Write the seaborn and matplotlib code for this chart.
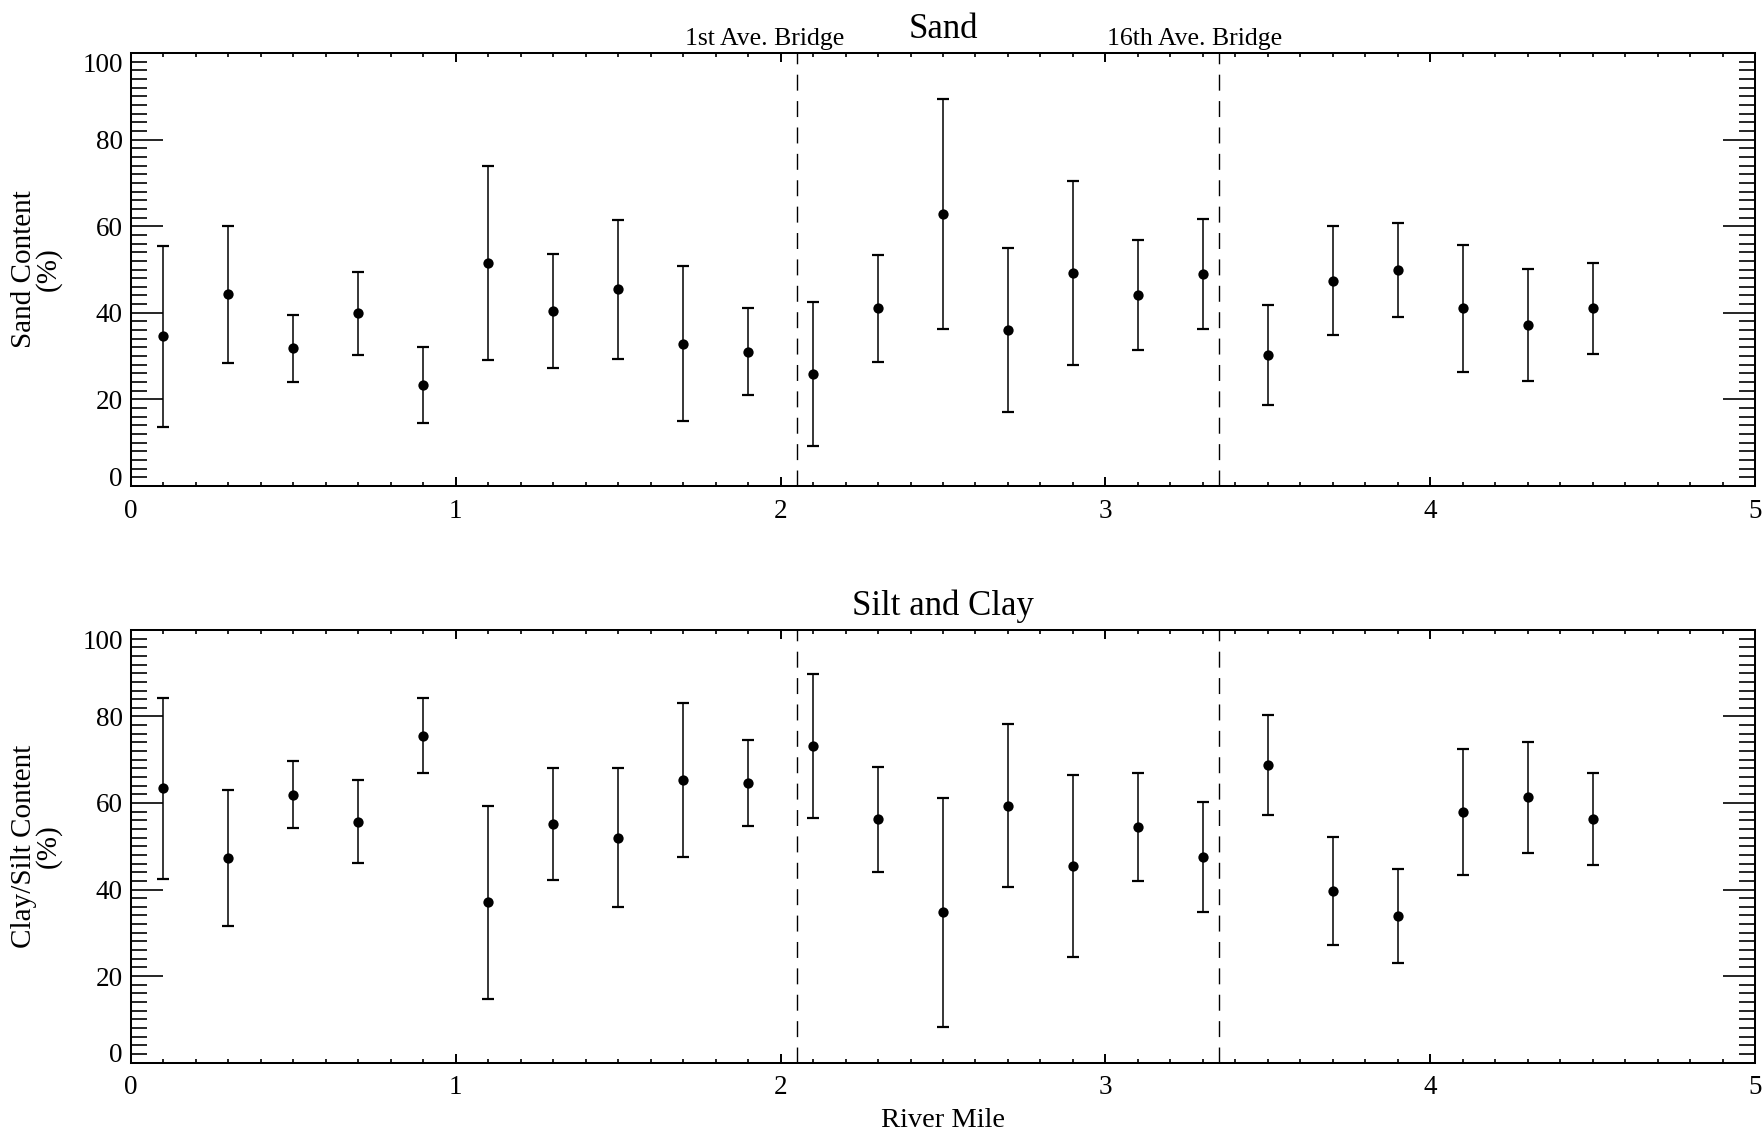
import matplotlib
matplotlib.use("Agg")
import matplotlib.pyplot as plt
import seaborn as sns
import pandas as pd
from matplotlib.ticker import MultipleLocator

# Sampling stations along the river (river mile)
river_mile = [0.1, 0.3, 0.5, 0.7, 0.9, 1.1, 1.3, 1.5, 1.7, 1.9, 2.1, 2.3,
              2.5, 2.7, 2.9, 3.1, 3.3, 3.5, 3.7, 3.9, 4.1, 4.3, 4.5]

# Sand content (%) mean and standard deviation
sand_mean = [34.6, 44.3, 31.8, 39.9, 23.4, 51.5, 40.4, 45.4, 32.9, 31.0, 25.9, 41.0,
             62.8, 36.0, 49.2, 44.1, 48.9, 30.3, 47.4, 49.9, 41.0, 37.2, 41.0]
sand_err = [20.9, 15.8, 7.8, 9.6, 8.8, 22.5, 13.2, 16.0, 18.0, 10.0, 16.6, 12.3,
            26.5, 19.0, 21.2, 12.6, 12.7, 11.6, 12.6, 10.8, 14.7, 13.0, 10.6]

# Clay/silt content (%) mean and standard deviation
silt_mean = [63.4, 47.2, 61.9, 55.7, 75.6, 37.0, 55.2, 52.0, 65.3, 64.6, 73.2, 56.2,
             34.7, 59.4, 45.4, 54.4, 47.6, 68.8, 39.6, 33.8, 57.9, 61.3, 56.3]
silt_err = [20.9, 15.7, 7.7, 9.6, 8.7, 22.4, 13.0, 16.0, 17.9, 10.0, 16.6, 12.2,
            26.5, 18.9, 21.1, 12.5, 12.7, 11.6, 12.5, 10.9, 14.5, 12.9, 10.6]

# Bridge crossings (river mile)
bridge_mile = [2.05, 3.35]
bridge_name = ["1st Ave. Bridge", "16th Ave. Bridge"]

# Axis ticks
x_ticks = [0, 1, 2, 3, 4, 5]
y_ticks = [0, 20, 40, 60, 80, 100]

panel_titles = ["Sand", "Silt and Clay"]
panel_ylabels = ["Sand Content\n(%)", "Clay/Silt Content\n(%)"]
x_label = "River Mile"

sns.set_theme(style="ticks")
plt.rcParams["font.family"] = ["Liberation Serif", "DejaVu Serif"]
plt.rcParams["lines.scale_dashes"] = False
plt.rcParams["axes.linewidth"] = 1.45

W, H = 1762, 1134
fig = plt.figure(figsize=(W / 100, H / 100), dpi=100)
fig.patch.set_facecolor("white")

left = 131 / W
width = (1755 - 131) / W
ax_top = fig.add_axes([left, 1 - 486 / H, width, (486 - 53) / H])
ax_bot = fig.add_axes([left, 1 - 1062.5 / H, width, (1062.5 - 630) / H])

frames = [
    pd.DataFrame({"mile": river_mile, "mean": sand_mean, "err": sand_err}),
    pd.DataFrame({"mile": river_mile, "mean": silt_mean, "err": silt_err}),
]

for i, (ax, df) in enumerate(zip([ax_top, ax_bot], frames)):
    ax.set_facecolor("white")
    ax.errorbar(df["mile"], df["mean"], yerr=df["err"], fmt="none",
                ecolor="black", elinewidth=1.1, capsize=4.6, capthick=1.6, zorder=2)
    sns.scatterplot(data=df, x="mile", y="mean", ax=ax, color="black",
                    s=55, linewidth=0, zorder=3, legend=False)

    for bm in bridge_mile:
        ax.axvline(bm, color="black", lw=1.0, linestyle=(0, (11.5, 7.5)), zorder=1)

    ax.set_xticks(x_ticks, labels=[str(t) for t in x_ticks])
    ax.set_yticks(y_ticks, labels=[str(t) for t in y_ticks])
    ax.xaxis.set_minor_locator(MultipleLocator(0.1))
    ax.yaxis.set_minor_locator(MultipleLocator(2))
    ax.set_xlim(0, 5)
    ax.set_ylim(0, 100)
    ax.tick_params(which="both", direction="in", top=True, right=True,
                   color="black", labelcolor="black", labelsize=19.5)
    ax.tick_params(axis="x", which="major", length=6.5, width=1.4, pad=9)
    ax.tick_params(axis="x", which="minor", length=3.2, width=1.2)
    ax.tick_params(axis="y", which="major", length=23, width=1.2, pad=6)
    ax.tick_params(axis="y", which="minor", length=11.5, width=1.2)
    for sp in ax.spines.values():
        sp.set_color("black")
        sp.set_linewidth(1.45)

    ylabs = ax.get_yticklabels()
    ylabs[0].set_va("baseline")
    ylabs[-1].set_va("top")

    ax.set_title(panel_titles[i], fontsize=25, pad=10.5, color="black")
    ax.set_ylabel(panel_ylabels[i], fontsize=21, linespacing=0.9, color="black")
    ax.yaxis.set_label_coords(-0.0425, 0.5)
    ax.set_xlabel("")

for bm, name in zip(bridge_mile, bridge_name):
    ax_top.annotate(name, xy=(bm, 1.0), xycoords=("data", "axes fraction"),
                    xytext=(-80.5, 5.5), textcoords="offset points",
                    ha="left", va="baseline", fontsize=18.5, color="black")

ax_bot.set_xlabel(x_label, fontsize=20.5, color="black", labelpad=6)

fig.savefig("out.png", dpi=100, facecolor="white")
